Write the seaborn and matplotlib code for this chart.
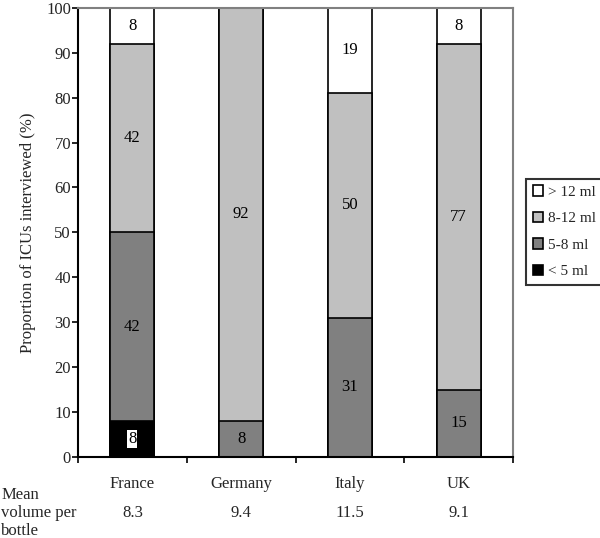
import matplotlib
matplotlib.use("Agg")
import matplotlib.pyplot as plt
import seaborn as sns
import pandas as pd
import numpy as np
from matplotlib.patches import Patch

countries = ["France", "Germany", "Italy", "UK"]
lt5 = [8, 0, 0, 0]
ml5_8 = [42, 8, 31, 15]
ml8_12 = [42, 92, 50, 77]
gt12 = [8, 0, 19, 8]
mean_volume = ["8.3", "9.4", "11.5", "9.1"]
categories = ["> 12 ml", "8-12 ml", "5-8 ml", "< 5 ml"]
colors = {"> 12 ml": "#ffffff", "8-12 ml": "#c0c0c0", "5-8 ml": "#808080", "< 5 ml": "#000000"}

sns.set_theme(style="white")
plt.rcParams["font.family"] = ["Liberation Serif", "DejaVu Serif"]
FS = 12

fig = plt.figure(figsize=(6, 5.38), dpi=100)
ax = fig.add_axes([0.13, 0.1506, 0.725, 0.835])

stack = [("< 5 ml", lt5), ("5-8 ml", ml5_8), ("8-12 ml", ml8_12), ("> 12 ml", gt12)]
cum = np.zeros(len(countries))
cums = []
for name, vals in stack:
    cum = cum + np.array(vals, dtype=float)
    cums.append((name, cum.copy(), np.array(vals, dtype=float)))

# draw tallest first so shorter overlays
for name, c, _ in reversed(cums):
    df = pd.DataFrame({"country": countries, "value": c})
    sns.barplot(data=df, x="country", y="value", color=colors[name], width=0.405,
                edgecolor="black", linewidth=1.2, saturation=1, ax=ax, order=countries)

# segment labels
base = np.zeros(len(countries))
for name, c, vals in cums:
    for i, v in enumerate(vals):
        if v > 0:
            y = base[i] + v / 2
            if name == "< 5 ml":
                ax.text(i, y, f"{int(v)}", ha="center", va="center", fontsize=FS, color="black",
                        bbox=dict(boxstyle="square,pad=0.05", fc="white", ec="none"))
            else:
                ax.text(i, y, f"{int(v)}", ha="center", va="center", fontsize=FS, color="black")
    base = base + vals

ax.set_xlim(-0.5, 3.5)
ax.set_ylim(0, 100)
ax.set_yticks(range(0, 101, 10))
ax.set_xticks([-0.5, 0.5, 1.5, 2.5, 3.5])
ax.set_xticklabels([])
ax.set_xticks(range(4), minor=True)
ax.set_xticklabels(countries, minor=True)
ax.tick_params(axis="x", which="minor", length=0, pad=14, labelsize=FS)
ax.tick_params(axis="x", which="major", length=4, width=1.2, direction="out", bottom=True, color="black")
ax.tick_params(axis="y", length=4, width=1.2, direction="out", left=True, labelsize=FS, color="black", pad=1)
ax.set_xlabel("")
ax.set_ylabel("Proportion of ICUs interviewed (%)", fontsize=FS, labelpad=7)

for side in ["left", "bottom"]:
    ax.spines[side].set_color("black")
    ax.spines[side].set_linewidth(1.5)
for side in ["top", "right"]:
    ax.spines[side].set_color("#808080")
    ax.spines[side].set_linewidth(1.5)

# mean volume row
trans = ax.get_xaxis_transform()
for i, mv in enumerate(mean_volume):
    ax.text(i, -0.125, mv, transform=trans, ha="center", va="center", fontsize=FS)
fig.text(0.002, 0.047, "Mean\nvolume per\nbottle", ha="left", va="center", fontsize=FS, linespacing=1.17)

handles = [Patch(facecolor=colors[c], edgecolor="black", linewidth=1.2, label=c) for c in categories]
leg = fig.legend(handles=handles, loc="center left", bbox_to_anchor=(0.877, 0.569), frameon=True,
                 fontsize=11, handlelength=0.65, handleheight=0.65, handletextpad=0.3,
                 labelspacing=0.85, borderpad=0.45, borderaxespad=0, fancybox=False, edgecolor="black")
leg.get_frame().set_linewidth(1.5)

fig.savefig("out.png", dpi=100)
